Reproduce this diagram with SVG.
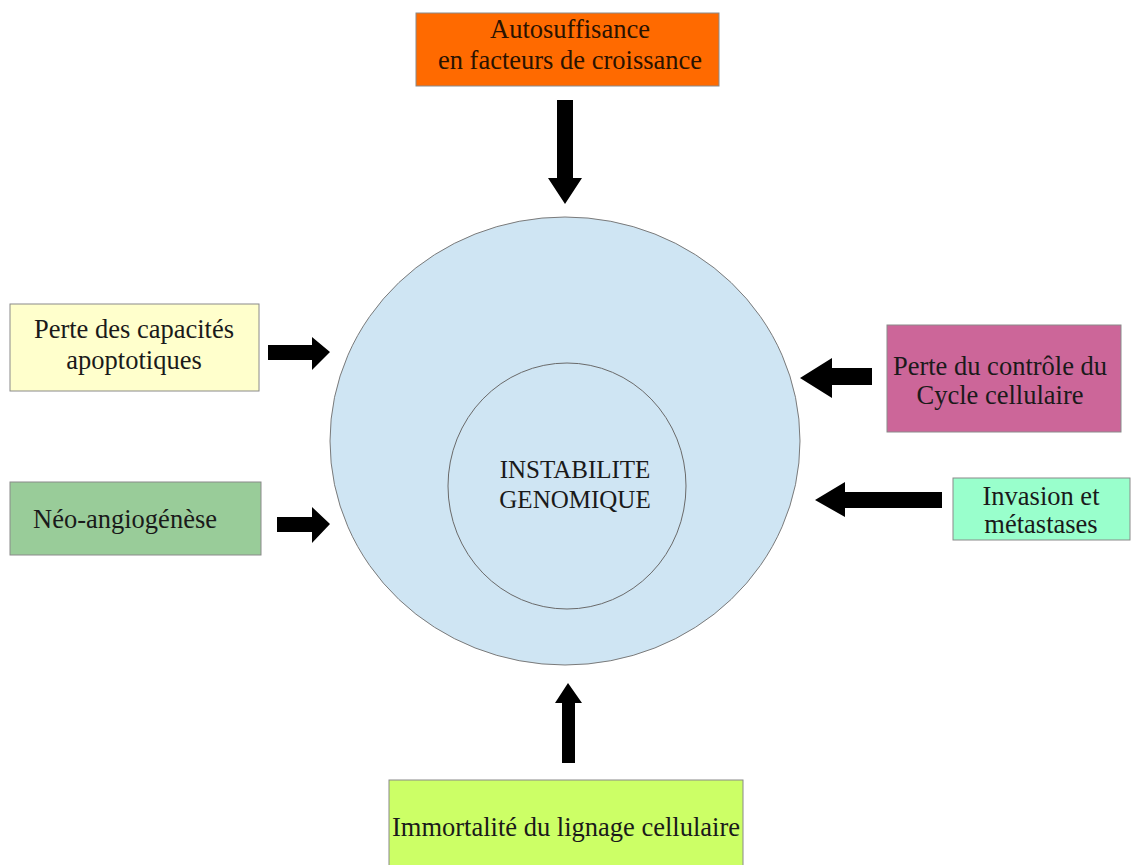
<svg xmlns="http://www.w3.org/2000/svg" width="1131" height="865" viewBox="0 0 1131 865">
<style>
.box{stroke:#8a8a8a;stroke-width:1}
.t{font-family:"Liberation Serif","Times New Roman",serif;font-size:26.5px;fill:#1a1a1a;text-anchor:middle}
.arr{fill:#000}
</style>
<rect width="1131" height="865" fill="#fff"/>
<g id="core">
<ellipse cx="565" cy="441" rx="235" ry="224" fill="#cfe5f3" stroke="#7a7a7a" stroke-width="1"/>
<ellipse cx="567" cy="486" rx="119" ry="123" fill="#cfe5f3" stroke="#6a6a6a" stroke-width="1"/>
<text class="t" x="575" y="478" style="font-size:25px">INSTABILITE</text>
<text class="t" x="575" y="508" style="font-size:25px">GENOMIQUE</text>
</g>
<g id="n-auto">
<rect class="box" x="416" y="13" width="303" height="73" fill="#ff6a00"/>
<text class="t" x="570" y="38" style="fill:#2a1200">Autosuffisance</text>
<text class="t" x="570" y="69" style="fill:#2a1200">en facteurs de croissance</text>
</g>
<g id="n-apop">
<rect class="box" x="10" y="304" width="249" height="87" fill="#ffffcc"/>
<text class="t" x="134" y="338">Perte des capacités</text>
<text class="t" x="134" y="369">apoptotiques</text>
</g>
<g id="n-neo">
<rect class="box" x="10" y="482" width="251" height="73" fill="#99cc99"/>
<text class="t" x="125" y="528">Néo-angiogénèse</text>
</g>
<g id="n-cycle">
<rect class="box" x="887" y="325" width="234" height="107" fill="#cc6699"/>
<text class="t" x="1000" y="375">Perte du contrôle du</text>
<text class="t" x="1000" y="404">Cycle cellulaire</text>
</g>
<g id="n-inv">
<rect class="box" x="953" y="478" width="177" height="62" fill="#99ffcc"/>
<text class="t" x="1041" y="505">Invasion et</text>
<text class="t" x="1041" y="533">métastases</text>
</g>
<g id="n-immo">
<rect class="box" x="389" y="780" width="354" height="90" fill="#ccff66"/>
<text class="t" x="566" y="836">Immortalité du lignage cellulaire</text>
</g>
<g id="connectors">
<polygon class="arr" points="557,100 573,100 573,178 582,178 565,204 548,178 557,178"/>
<polygon class="arr" points="268,345 312,345 312,337 330,352 312,370 312,360 268,360"/>
<polygon class="arr" points="277,517 312,517 312,507 330,524 312,543 312,532 277,532"/>
<polygon class="arr" points="872,368 832,368 832,358 800,378 832,398 832,385 872,385"/>
<polygon class="arr" points="942,492 845,492 845,482 815,500 845,517 845,508 942,508"/>
<polygon class="arr" points="562,763 575,763 575,703 582,703 568,683 555,703 562,703"/>
</g>
</svg>
